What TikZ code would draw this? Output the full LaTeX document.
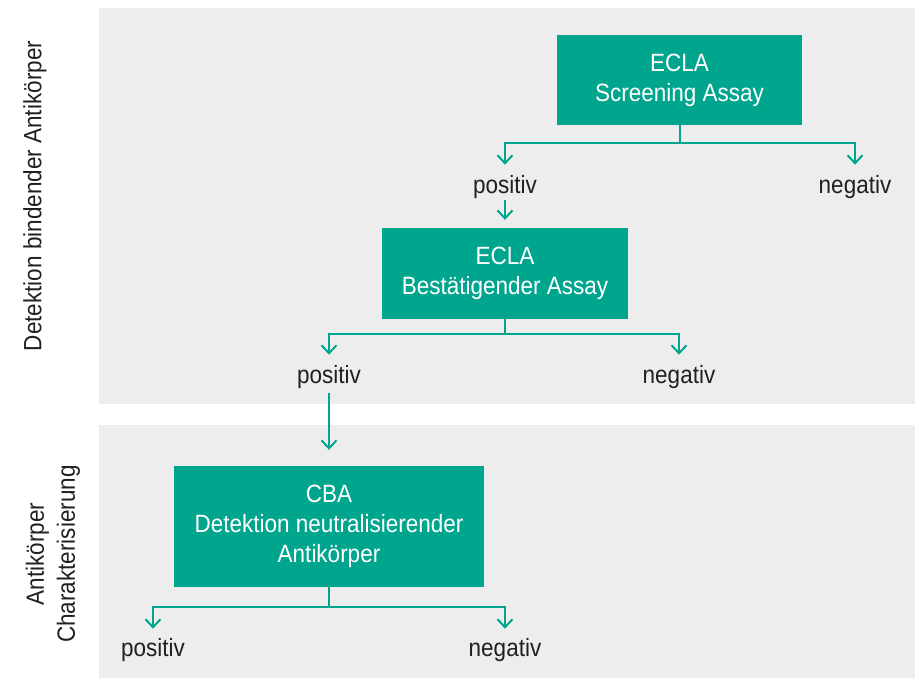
\documentclass[tikz,border=0pt]{standalone}
\usepackage{fontspec}
\setmainfont{Liberation Sans}[FakeStretch=0.9]
\usetikzlibrary{arrows.meta}
\definecolor{teal1}{HTML}{00A58E}
\definecolor{panel}{HTML}{EDEDED}
\definecolor{txt}{HTML}{231F20}
\tikzset{
  box/.style={fill=teal1, draw=none, text=white, align=center, inner sep=0pt,
    font=\fontsize{25}{30}\selectfont},
  lbl/.style={text=txt, inner sep=0pt, anchor=base, font=\fontsize{25}{30}\selectfont},
  side/.style={text=txt, inner sep=0pt, rotate=90, align=center, font=\fontsize{25}{31}\selectfont},
  conn/.style={draw=teal1, line width=2pt},
  arr/.style={conn, -{Straight Barb[length=8pt, width=15pt, line width=2pt]}},
}
\begin{document}
\begin{tikzpicture}[x=1pt, y=-1pt]
\useasboundingbox (0,0) rectangle (919,678);
% panels
\fill[panel] (99,8) rectangle (915,404);
\fill[panel] (99,425) rectangle (915,678);
% side labels
\node[side] (s1) at (35,196) {Detektion bindender Antikörper};
\node[side] (s2) at (53,554) {Antikörper\\Charakterisierung};
% boxes
\node[box, minimum width=245pt, minimum height=90pt] (b1) at (679.5,80) {ECLA\\Screening Assay};
\node[box, minimum width=246pt, minimum height=91pt] (b2) at (505,273.5) {ECLA\\Bestätigender Assay};
\node[box, minimum width=310pt, minimum height=121pt] (b3) at (329,526.5) {CBA\\Detektion neutralisierender\\Antikörper};
% outcome labels
\node[lbl] (p1) at (505,193) {positiv};
\node[lbl] (n1) at (855,193) {negativ};
\node[lbl] (p2) at (329,383) {positiv};
\node[lbl] (n2) at (679,383) {negativ};
\node[lbl] (p3) at (153,656) {positiv};
\node[lbl] (n3) at (505,656) {negativ};
% connectors
\draw[conn] (b1.south) -- ++(0,18) coordinate (j1);
\draw[arr, shorten >=10pt] (j1) -| (p1.north);
\draw[arr, shorten >=10pt] (j1) -| (n1.north);
\draw[arr, shorten <=2pt, shorten >=8pt] (p1.south) -- (b2.north);
\draw[conn] (b2.south) -- ++(0,14.5) coordinate (j2);
\draw[arr, shorten >=10pt] (j2) -| (p2.north);
\draw[arr, shorten >=10pt] (j2) -| (n2.north);
\draw[arr, shorten <=5pt, shorten >=16pt] (p2.south) -- (b3.north);
\draw[conn] (b3.south) -- ++(0,20) coordinate (j3);
\draw[arr, shorten >=9pt] (j3) -| (p3.north);
\draw[arr, shorten >=9pt] (j3) -| (n3.north);
\end{tikzpicture}
\end{document}
